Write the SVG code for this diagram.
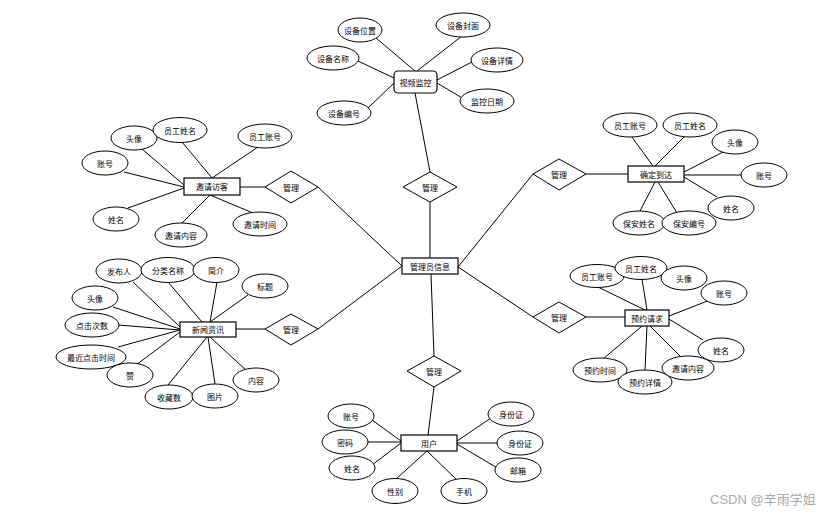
<svg xmlns="http://www.w3.org/2000/svg" width="837" height="514" viewBox="0 0 837 514">
<style>
.l{stroke:#000;stroke-width:1;fill:none}
.e{fill:#fff;stroke:#000;stroke-width:1}
.r{fill:#fff;stroke:#000;stroke-width:1.2}
.d{fill:#fff;stroke:#000;stroke-width:1}
text{font-family:"Noto Sans CJK SC","Noto Sans",sans-serif;font-size:8px;fill:#000;text-anchor:middle;dominant-baseline:central}
.wm{font-family:"Liberation Sans","Noto Sans CJK SC",sans-serif;font-size:13px;fill:#aaa;text-anchor:start;dominant-baseline:auto}
</style>
<rect width="837" height="514" fill="#fff"/>
<g id="connectors">
<!-- center -->
<line class="l" x1="430" y1="258" x2="430" y2="202"/>
<line class="l" x1="430" y1="172" x2="415" y2="93"/>
<line class="l" x1="402" y1="266" x2="318" y2="187"/>
<line class="l" x1="402" y1="266" x2="318" y2="329"/>
<line class="l" x1="458" y1="267" x2="533" y2="174"/>
<line class="l" x1="458" y1="267" x2="533" y2="317"/>
<line class="l" x1="431" y1="274" x2="434" y2="356"/>
<line class="l" x1="434" y1="387" x2="428" y2="435"/>
<line class="l" x1="265" y1="187" x2="240" y2="187"/>
<line class="l" x1="265" y1="329" x2="236" y2="329"/>
<line class="l" x1="586" y1="174" x2="628" y2="174"/>
<line class="l" x1="586" y1="317" x2="625" y2="317"/>
<!-- 视频监控 -->
<line class="l" x1="415" y1="71" x2="376" y2="38"/>
<line class="l" x1="417" y1="71" x2="462" y2="36"/>
<line class="l" x1="394" y1="78" x2="358" y2="61"/>
<line class="l" x1="437" y1="80" x2="472" y2="62"/>
<line class="l" x1="394" y1="83" x2="368" y2="108"/>
<line class="l" x1="437" y1="83" x2="464" y2="99"/>
<!-- 邀请访客 -->
<line class="l" x1="184" y1="185" x2="142" y2="149"/>
<line class="l" x1="212" y1="178" x2="182" y2="142"/>
<line class="l" x1="212" y1="178" x2="258" y2="147"/>
<line class="l" x1="184" y1="187" x2="124" y2="172"/>
<line class="l" x1="184" y1="188" x2="128" y2="208"/>
<line class="l" x1="210" y1="195" x2="182" y2="223"/>
<line class="l" x1="210" y1="195" x2="253" y2="213"/>
<!-- 确定到达 -->
<line class="l" x1="653" y1="166" x2="632" y2="137"/>
<line class="l" x1="655" y1="166" x2="685" y2="136"/>
<line class="l" x1="684" y1="172" x2="723" y2="152"/>
<line class="l" x1="684" y1="175" x2="741" y2="175"/>
<line class="l" x1="684" y1="177" x2="717" y2="197"/>
<line class="l" x1="655" y1="182" x2="640" y2="211"/>
<line class="l" x1="658" y1="182" x2="677" y2="213"/>
<!-- 新闻资讯 -->
<line class="l" x1="180" y1="327" x2="133" y2="282"/>
<line class="l" x1="202" y1="322" x2="168" y2="282"/>
<line class="l" x1="210" y1="322" x2="217" y2="282"/>
<line class="l" x1="210" y1="322" x2="248" y2="295"/>
<line class="l" x1="180" y1="329" x2="113" y2="307"/>
<line class="l" x1="180" y1="330" x2="118" y2="325"/>
<line class="l" x1="180" y1="330" x2="118" y2="347"/>
<line class="l" x1="180" y1="332" x2="136" y2="365"/>
<line class="l" x1="207" y1="337" x2="168" y2="385"/>
<line class="l" x1="208" y1="337" x2="215" y2="384"/>
<line class="l" x1="210" y1="337" x2="247" y2="371"/>
<!-- 预约请求 -->
<line class="l" x1="645" y1="310" x2="598" y2="287"/>
<line class="l" x1="647" y1="310" x2="642" y2="279"/>
<line class="l" x1="669" y1="316" x2="710" y2="300"/>
<line class="l" x1="669" y1="319" x2="703" y2="340"/>
<line class="l" x1="642" y1="326" x2="603" y2="359"/>
<line class="l" x1="647" y1="326" x2="645" y2="370"/>
<line class="l" x1="650" y1="326" x2="682" y2="358"/>
<!-- 用户 -->
<line class="l" x1="401" y1="441" x2="372" y2="420"/>
<line class="l" x1="401" y1="442" x2="368" y2="442"/>
<line class="l" x1="401" y1="443" x2="372" y2="465"/>
<line class="l" x1="427" y1="451" x2="396" y2="479"/>
<line class="l" x1="427" y1="451" x2="457" y2="480"/>
<line class="l" x1="457" y1="441" x2="491" y2="418"/>
<line class="l" x1="457" y1="443" x2="497" y2="443"/>
<line class="l" x1="457" y1="444" x2="499" y2="469"/>
</g>
<g id="center"><rect class="r" x="402" y="258" width="56" height="16"/><text x="430" y="266">管理员信息</text></g>
<g id="rel-top"><polygon class="d" points="430,172 457,187 430,202 403,187"/><text x="430" y="187">管理</text></g>
<g id="rel-lu"><polygon class="d" points="291,171 318,187 291,203 265,187"/><text x="291" y="187">管理</text></g>
<g id="rel-ll"><polygon class="d" points="291,314 318,329 291,345 265,329"/><text x="291" y="329">管理</text></g>
<g id="rel-ru"><polygon class="d" points="559,159 586,174 559,190 533,174"/><text x="559" y="174">管理</text></g>
<g id="rel-rl"><polygon class="d" points="559,302 586,317 559,333 533,317"/><text x="559" y="317">管理</text></g>
<g id="rel-b"><polygon class="d" points="434,356 461,371 434,387 407,371"/><text x="434" y="371">管理</text></g>
<g id="video">
<rect class="r" x="394" y="71" width="43" height="22" rx="4"/><text x="415.5" y="82">视频监控</text>
<ellipse class="e" cx="360" cy="30" rx="22" ry="12"/><text x="360" y="30">设备位置</text>
<ellipse class="e" cx="463" cy="25" rx="27" ry="12"/><text x="463" y="25">设备封面</text>
<ellipse class="e" cx="333" cy="58" rx="26" ry="12"/><text x="333" y="58">设备名称</text>
<ellipse class="e" cx="497" cy="60" rx="26" ry="12"/><text x="497" y="60">设备详情</text>
<ellipse class="e" cx="344" cy="113" rx="27" ry="12"/><text x="344" y="113">设备编号</text>
<ellipse class="e" cx="487" cy="101" rx="27" ry="12"/><text x="487" y="101">监控日期</text>
</g>
<g id="invite">
<rect class="r" x="184" y="178" width="56" height="17"/><text x="212" y="186.5">邀请访客</text>
<ellipse class="e" cx="134" cy="138" rx="23" ry="12"/><text x="134" y="138">头像</text>
<ellipse class="e" cx="180" cy="130" rx="27" ry="12.5"/><text x="180" y="130">员工姓名</text>
<ellipse class="e" cx="265" cy="136" rx="27" ry="12"/><text x="265" y="136">员工账号</text>
<ellipse class="e" cx="105" cy="163" rx="23" ry="12"/><text x="105" y="163">账号</text>
<ellipse class="e" cx="116" cy="219" rx="23" ry="12"/><text x="116" y="219">姓名</text>
<ellipse class="e" cx="181" cy="235" rx="26" ry="12"/><text x="181" y="235">邀请内容</text>
<ellipse class="e" cx="260" cy="224" rx="27" ry="12"/><text x="260" y="224">邀请时间</text>
</g>
<g id="arrive">
<rect class="r" x="628" y="166" width="56" height="16"/><text x="656" y="174">确定到达</text>
<ellipse class="e" cx="630" cy="125" rx="27" ry="12"/><text x="630" y="125">员工账号</text>
<ellipse class="e" cx="690" cy="125" rx="27" ry="12"/><text x="690" y="125">员工姓名</text>
<ellipse class="e" cx="735" cy="142" rx="23" ry="12"/><text x="735" y="142">头像</text>
<ellipse class="e" cx="764" cy="175" rx="23" ry="12"/><text x="764" y="175">账号</text>
<ellipse class="e" cx="731" cy="208" rx="23" ry="12"/><text x="731" y="208">姓名</text>
<ellipse class="e" cx="639" cy="223" rx="26" ry="12"/><text x="639" y="223">保安姓名</text>
<ellipse class="e" cx="689" cy="223" rx="27" ry="12"/><text x="689" y="223">保安编号</text>
</g>
<g id="news">
<rect class="r" x="180" y="322" width="56" height="15"/><text x="208" y="329.5">新闻资讯</text>
<ellipse class="e" cx="119" cy="271" rx="23" ry="12"/><text x="119" y="271">发布人</text>
<ellipse class="e" cx="168" cy="270" rx="27" ry="12.5"/><text x="168" y="270">分类名称</text>
<ellipse class="e" cx="216" cy="270" rx="23" ry="12.5"/><text x="216" y="270">简介</text>
<ellipse class="e" cx="265" cy="286" rx="23" ry="12"/><text x="265" y="286">标题</text>
<ellipse class="e" cx="95" cy="298" rx="23" ry="12"/><text x="95" y="298">头像</text>
<ellipse class="e" cx="92" cy="325" rx="27" ry="12"/><text x="92" y="325">点击次数</text>
<ellipse class="e" cx="91" cy="357" rx="35" ry="12"/><text x="91" y="357">最近点击时间</text>
<ellipse class="e" cx="130" cy="375" rx="23" ry="12"/><text x="130" y="375">赞</text>
<ellipse class="e" cx="169" cy="397" rx="24" ry="12"/><text x="169" y="397">收藏数</text>
<ellipse class="e" cx="215" cy="396" rx="23" ry="12"/><text x="215" y="396">图片</text>
<ellipse class="e" cx="256" cy="380" rx="23" ry="12"/><text x="256" y="380">内容</text>
</g>
<g id="booking">
<rect class="r" x="625" y="310" width="44" height="16"/><text x="647" y="318">预约请求</text>
<ellipse class="e" cx="597" cy="276" rx="27" ry="11.5"/><text x="597" y="276">员工账号</text>
<ellipse class="e" cx="641" cy="268" rx="26" ry="11.5"/><text x="641" y="268">员工姓名</text>
<ellipse class="e" cx="684" cy="278" rx="23" ry="12"/><text x="684" y="278">头像</text>
<ellipse class="e" cx="724" cy="293" rx="23" ry="12"/><text x="724" y="293">账号</text>
<ellipse class="e" cx="721" cy="350" rx="23" ry="12"/><text x="721" y="350">姓名</text>
<ellipse class="e" cx="600" cy="370" rx="27" ry="12"/><text x="600" y="370">预约时间</text>
<ellipse class="e" cx="688" cy="368" rx="26" ry="12"/><text x="688" y="368">邀请内容</text>
<ellipse class="e" cx="645" cy="382" rx="27" ry="12"/><text x="645" y="382">预约详情</text>
</g>
<g id="user">
<rect class="r" x="401" y="435" width="56" height="16"/><text x="429" y="443">用户</text>
<ellipse class="e" cx="351" cy="416" rx="23" ry="12"/><text x="351" y="416">账号</text>
<ellipse class="e" cx="345" cy="442" rx="23" ry="12"/><text x="345" y="442">密码</text>
<ellipse class="e" cx="352" cy="468" rx="23" ry="12"/><text x="352" y="468">姓名</text>
<ellipse class="e" cx="395" cy="491" rx="23" ry="12.5"/><text x="395" y="491">性别</text>
<ellipse class="e" cx="464" cy="491" rx="23" ry="12.5"/><text x="464" y="491">手机</text>
<ellipse class="e" cx="511" cy="414" rx="23" ry="12"/><text x="511" y="414">身份证</text>
<ellipse class="e" cx="520" cy="443" rx="23" ry="12"/><text x="520" y="443">身份证</text>
<ellipse class="e" cx="518" cy="470" rx="23" ry="12"/><text x="518" y="470">邮箱</text>
</g>
<text class="wm" x="710" y="504">CSDN @辛雨学姐</text>
</svg>
